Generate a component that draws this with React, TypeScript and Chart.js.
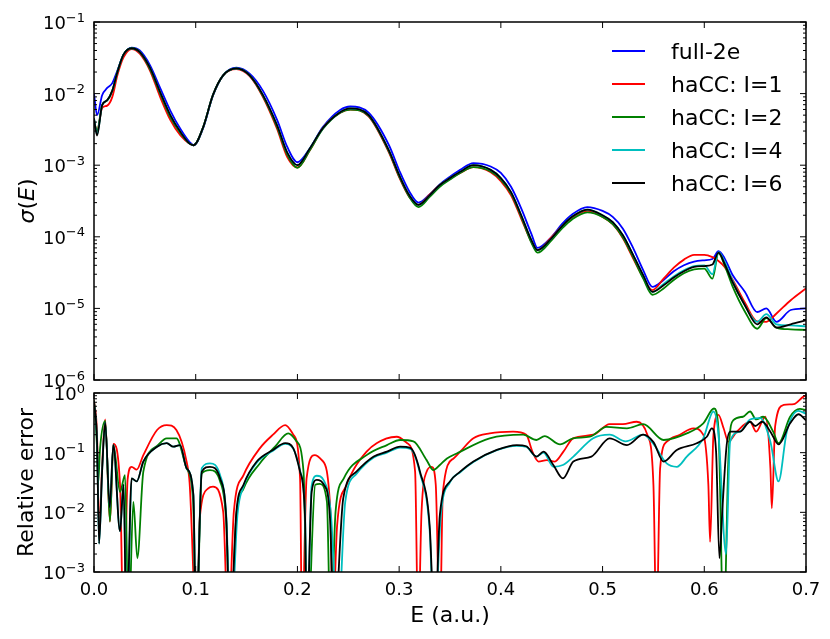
import { useEffect, useRef } from "react"
import { Chart, registerables } from "chart.js"

Chart.register(...registerables)

const FONT = "'DejaVu Sans', sans-serif"
const WIDTH = 830
const HEIGHT = 639

// energy axis ticks (a.u.)
const energyTicks = [0, 0.1, 0.2, 0.3, 0.4, 0.5, 0.6, 0.7]
// decades on the two log axes
const sigmaDecades = [-6, -5, -4, -3, -2, -1]
const errorDecades = [-3, -2, -1, 0]

const seriesNames = ["full-2e", "haCC: I=1", "haCC: I=2", "haCC: I=4", "haCC: I=6"]
const seriesColors = ["#0000ff", "#ff0000", "#008000", "#00bfbf", "#000000"]

// upper panel: sigma(E), all curves on one energy grid
const energyTop = [
  0, 0.003, 0.008, 0.013, 0.018, 0.023, 0.029, 0.037, 0.045, 0.055,
  0.065, 0.075, 0.085, 0.094, 0.098, 0.107, 0.117, 0.127, 0.14, 0.153,
  0.166, 0.18, 0.19, 0.2, 0.212, 0.225, 0.242, 0.252, 0.27, 0.29,
  0.3, 0.31, 0.319, 0.33, 0.34, 0.35, 0.36, 0.373, 0.39, 0.4,
  0.41, 0.42, 0.43, 0.436, 0.45, 0.46, 0.47, 0.485, 0.5, 0.51,
  0.52, 0.53, 0.54, 0.549, 0.56, 0.57, 0.58, 0.59, 0.6, 0.608,
  0.614, 0.62, 0.628, 0.64, 0.652, 0.661, 0.671, 0.685, 0.7,
]
const sigmaFull2e = [
  1.0e-2, 5.0e-3, 9.5e-3, 1.2e-2, 1.4e-2, 2.1e-2, 3.5e-2, 4.4e-2, 4.0e-2, 2.5e-2,
  1.2e-2, 5.8e-3, 3.2e-3, 2.1e-3, 1.9e-3, 3.2e-3, 9.4e-3, 1.8e-2, 2.3e-2, 1.9e-2,
  1.1e-2, 4.3e-3, 1.8e-3, 1.1e-3, 1.7e-3, 3.4e-3, 5.9e-3, 6.6e-3, 5.4e-3, 1.9e-3,
  8.5e-4, 4.3e-4, 3.0e-4, 3.9e-4, 5.4e-4, 6.9e-4, 8.6e-4, 1.07e-3, 9.6e-4, 7.8e-4,
  5.0e-4, 2.5e-4, 1.1e-4, 7.0e-5, 1.0e-4, 1.5e-4, 2.05e-4, 2.6e-4, 2.3e-4, 1.9e-4,
  1.3e-4, 7.0e-5, 3.4e-5, 2.0e-5, 2.5e-5, 3.3e-5, 4.0e-5, 4.5e-5, 4.7e-5, 4.9e-5,
  6.3e-5, 5.0e-5, 2.9e-5, 1.7e-5, 8.9e-6, 1.0e-5, 6.5e-6, 9.5e-6, 1.0e-5,
]
const sigmaL1 = [
  4.0e-3, 3.0e-3, 6.3e-3, 6.8e-3, 9.0e-3, 1.8e-2, 3.2e-2, 4.2e-2, 3.6e-2, 2.1e-2,
  9.0e-3, 4.3e-3, 2.6e-3, 2.0e-3, 1.9e-3, 3.3e-3, 9.6e-3, 1.8e-2, 2.2e-2, 1.75e-2,
  9.0e-3, 3.2e-3, 1.3e-3, 9.3e-4, 1.6e-3, 3.3e-3, 5.4e-3, 6.0e-3, 4.8e-3, 1.5e-3,
  6.8e-4, 3.6e-4, 2.8e-4, 3.9e-4, 5.3e-4, 6.5e-4, 7.8e-4, 9.4e-4, 8.0e-4, 6.0e-4,
  3.8e-4, 1.8e-4, 8.5e-5, 6.5e-5, 1.0e-4, 1.4e-4, 1.85e-4, 2.3e-4, 1.9e-4, 1.5e-4,
  9.5e-5, 5.0e-5, 2.7e-5, 1.8e-5, 2.6e-5, 3.7e-5, 4.8e-5, 5.6e-5, 5.6e-5, 5.2e-5,
  4.6e-5, 3.8e-5, 2.5e-5, 1.2e-5, 6.6e-6, 6.5e-6, 8.5e-6, 1.3e-5, 1.9e-5,
]
const sigmaL2 = [
  4.2e-3, 3.0e-3, 6.9e-3, 8.0e-3, 1.1e-2, 2.0e-2, 3.5e-2, 4.3e-2, 3.8e-2, 2.2e-2,
  1.0e-2, 4.7e-3, 2.8e-3, 2.0e-3, 1.9e-3, 3.3e-3, 9.6e-3, 1.8e-2, 2.25e-2, 1.8e-2,
  9.3e-3, 3.4e-3, 1.4e-3, 9.2e-4, 1.6e-3, 3.2e-3, 5.4e-3, 6.0e-3, 4.9e-3, 1.55e-3,
  7.0e-4, 3.6e-4, 2.6e-4, 3.6e-4, 5.0e-4, 6.3e-4, 7.8e-4, 9.4e-4, 8.2e-4, 6.3e-4,
  4.0e-4, 1.9e-4, 8.3e-5, 6.0e-5, 9.0e-5, 1.3e-4, 1.75e-4, 2.2e-4, 1.9e-4, 1.5e-4,
  9.8e-5, 5.2e-5, 2.6e-5, 1.55e-5, 1.9e-5, 2.5e-5, 3.1e-5, 3.5e-5, 3.6e-5, 2.6e-5,
  5.9e-5, 4.0e-5, 2.0e-5, 9.0e-6, 5.2e-6, 7.3e-6, 5.4e-6, 5.1e-6, 5.0e-6,
]
const sigmaL4 = [
  4.5e-3, 2.7e-3, 6.9e-3, 8.1e-3, 1.1e-2, 2.0e-2, 3.5e-2, 4.3e-2, 3.8e-2, 2.3e-2,
  1.05e-2, 5.0e-3, 2.9e-3, 2.0e-3, 1.9e-3, 3.3e-3, 9.6e-3, 1.8e-2, 2.25e-2, 1.8e-2,
  9.6e-3, 3.6e-3, 1.5e-3, 1.0e-3, 1.7e-3, 3.3e-3, 5.5e-3, 6.2e-3, 5.0e-3, 1.6e-3,
  7.3e-4, 3.8e-4, 2.8e-4, 3.8e-4, 5.3e-4, 6.6e-4, 8.1e-4, 1.0e-3, 8.6e-4, 6.6e-4,
  4.2e-4, 2.0e-4, 9.0e-5, 6.5e-5, 9.6e-5, 1.4e-4, 1.9e-4, 2.4e-4, 2.0e-4, 1.6e-4,
  1.05e-4, 5.6e-5, 2.9e-5, 1.7e-5, 2.2e-5, 2.8e-5, 3.4e-5, 3.9e-5, 4.0e-5, 3.0e-5,
  6.1e-5, 4.5e-5, 2.4e-5, 1.1e-5, 6.5e-6, 8.3e-6, 6.0e-6, 5.8e-6, 5.6e-6,
]
const sigmaL6 = [
  4.5e-3, 2.6e-3, 6.9e-3, 8.1e-3, 1.1e-2, 2.0e-2, 3.5e-2, 4.3e-2, 3.8e-2, 2.3e-2,
  1.05e-2, 5.0e-3, 2.9e-3, 2.0e-3, 1.9e-3, 3.3e-3, 9.6e-3, 1.8e-2, 2.25e-2, 1.8e-2,
  9.6e-3, 3.6e-3, 1.5e-3, 1.0e-3, 1.7e-3, 3.3e-3, 5.5e-3, 6.2e-3, 5.0e-3, 1.6e-3,
  7.3e-4, 3.8e-4, 2.8e-4, 3.8e-4, 5.3e-4, 6.6e-4, 8.1e-4, 1.0e-3, 8.6e-4, 6.6e-4,
  4.2e-4, 2.0e-4, 9.0e-5, 6.5e-5, 9.6e-5, 1.4e-4, 1.9e-4, 2.4e-4, 2.0e-4, 1.6e-4,
  1.05e-4, 5.6e-5, 2.9e-5, 1.7e-5, 2.1e-5, 2.7e-5, 3.3e-5, 3.8e-5, 3.9e-5, 4.1e-5,
  6.0e-5, 4.2e-5, 2.3e-5, 1.1e-5, 6.0e-6, 7.5e-6, 5.4e-6, 6.0e-6, 6.8e-6,
]

// lower panel: relative error, each curve sampled where its features are
const errL1Energy = [
  0, 0.003, 0.005, 0.008, 0.011, 0.0157, 0.019, 0.0256, 0.029, 0.033,
  0.037, 0.042, 0.0485, 0.062, 0.0715, 0.081, 0.091, 0.094, 0.101, 0.104,
  0.112, 0.117, 0.127, 0.132, 0.1375, 0.147, 0.163, 0.176, 0.188, 0.196,
  0.2026, 0.2045, 0.209, 0.217, 0.224, 0.2328, 0.2345, 0.239, 0.2485, 0.268,
  0.288, 0.2977, 0.308, 0.3157, 0.3187, 0.322, 0.327, 0.332, 0.336, 0.34,
  0.343, 0.3535, 0.36, 0.373, 0.389, 0.412, 0.425, 0.431, 0.437, 0.445,
  0.453, 0.4615, 0.471, 0.491, 0.507, 0.52, 0.5336, 0.544, 0.55, 0.553,
  0.5566, 0.5631, 0.576, 0.5893, 0.599, 0.604, 0.6057, 0.609, 0.6139, 0.619,
  0.6237, 0.632, 0.645, 0.651, 0.66, 0.665, 0.6664, 0.6697, 0.678, 0.688,
  0.6975, 0.7,
]
const errL1 = [
  0.75, 0.2, 5e-3, 0.06, 0.36, 7e-3, 0.14, 0.029, 1e-4, 0.035,
  0.058, 0.052, 0.091, 0.24, 0.29, 0.24, 0.071, 0.031, 1e-4, 0.008,
  0.025, 0.027, 0.0103, 1e-4, 0.0103, 0.042, 0.118, 0.2, 0.29, 0.2,
  0.037, 1e-4, 0.037, 0.091, 0.075, 8e-3, 1e-4, 6e-3, 0.029, 0.104,
  0.174, 0.185, 0.144, 0.048, 1e-4, 0.01, 0.048, 0.058, 0.029, 1e-4,
  0.022, 0.08, 0.104, 0.174, 0.21, 0.225, 0.2, 0.104, 0.071, 0.075,
  0.071, 0.104, 0.174, 0.2, 0.3, 0.3, 0.33, 0.2, 0.029, 1e-4,
  0.055, 0.153, 0.2, 0.256, 0.2, 0.029, 3.2e-3, 0.2, 0.43, 0.256,
  0.153, 0.225, 0.33, 0.225, 0.4, 0.055, 0.0117, 0.28, 0.63, 0.65,
  0.87, 0.9,
]
const errL2Energy = [
  0, 0.003, 0.004, 0.006, 0.011, 0.0157, 0.019, 0.0256, 0.0305, 0.034,
  0.0387, 0.0426, 0.0485, 0.062, 0.0715, 0.081, 0.091, 0.0975, 0.1005, 0.106,
  0.114, 0.124, 0.13, 0.134, 0.14, 0.147, 0.163, 0.178, 0.191, 0.1985,
  0.206, 0.21, 0.2175, 0.222, 0.229, 0.2325, 0.2375, 0.2456, 0.268, 0.288,
  0.301, 0.314, 0.327, 0.3337, 0.34, 0.347, 0.3566, 0.389, 0.422, 0.435,
  0.443, 0.4582, 0.471, 0.4875, 0.504, 0.524, 0.54, 0.56, 0.5828, 0.599,
  0.6096, 0.6139, 0.619, 0.624, 0.6286, 0.638, 0.645, 0.651, 0.658, 0.6677,
  0.673, 0.6844, 0.694, 0.7,
]
const errL2 = [
  0.75, 0.12, 0.03, 0.12, 0.34, 7e-3, 0.135, 0.022, 0.042, 1e-4,
  0.015, 1.7e-3, 0.048, 0.13, 0.174, 0.174, 0.055, 0.015, 1e-4, 0.045,
  0.051, 0.033, 7e-3, 1e-4, 9e-3, 0.025, 0.066, 0.126, 0.21, 0.16,
  0.048, 1e-4, 0.029, 0.03, 0.015, 1e-4, 0.0103, 0.037, 0.091, 0.134,
  0.163, 0.155, 0.075, 0.051, 0.062, 0.08, 0.097, 0.174, 0.2, 0.163,
  0.19, 0.138, 0.174, 0.185, 0.27, 0.256, 0.3, 0.163, 0.21, 0.31,
  0.55, 0.256, 1e-4, 0.104, 0.35, 0.4, 0.49, 0.36, 0.4, 0.225,
  0.144, 0.4, 0.54, 0.52,
]
const errL4Energy = [
  0, 0.003, 0.005, 0.008, 0.011, 0.0155, 0.019, 0.0256, 0.029, 0.0325,
  0.037, 0.042, 0.0485, 0.062, 0.0715, 0.078, 0.0846, 0.091, 0.0977, 0.1003,
  0.106, 0.114, 0.124, 0.13, 0.1345, 0.141, 0.147, 0.16, 0.176, 0.188,
  0.196, 0.2026, 0.2075, 0.2095, 0.214, 0.219, 0.226, 0.233, 0.2395, 0.247,
  0.258, 0.275, 0.288, 0.301, 0.311, 0.3205, 0.33, 0.3345, 0.341, 0.35,
  0.36, 0.373, 0.396, 0.4156, 0.425, 0.435, 0.442, 0.4516, 0.461, 0.4713,
  0.4908, 0.507, 0.5226, 0.54, 0.55, 0.563, 0.573, 0.5828, 0.599, 0.609,
  0.614, 0.6214, 0.6254, 0.635, 0.645, 0.655, 0.665, 0.673, 0.6811, 0.6926,
  0.7,
]
const errL4 = [
  0.72, 0.15, 3e-3, 0.05, 0.32, 0.012, 0.135, 4.8e-3, 0.029, 1e-4,
  0.037, 0.033, 0.071, 0.126, 0.144, 0.126, 0.134, 0.055, 0.0196, 1e-4,
  0.055, 0.066, 0.042, 9e-3, 1e-4, 9e-3, 0.027, 0.068, 0.108, 0.14,
  0.116, 0.05, 9e-3, 1e-4, 0.028, 0.041, 0.034, 9e-3, 1e-4, 0.015,
  0.044, 0.083, 0.1, 0.122, 0.116, 0.045, 5e-3, 1e-4, 0.009, 0.032,
  0.047, 0.07, 0.11, 0.13, 0.125, 0.086, 0.1, 0.058, 0.062, 0.086,
  0.174, 0.2, 0.155, 0.2, 0.14, 0.066, 0.058, 0.086, 0.174, 0.49,
  0.2, 2e-3, 0.153, 0.225, 0.36, 0.38, 0.153, 0.033, 0.225, 0.5,
  0.45,
]
const errL6Energy = [
  0, 0.003, 0.005, 0.008, 0.011, 0.0155, 0.019, 0.0256, 0.029, 0.032,
  0.037, 0.042, 0.0485, 0.062, 0.0715, 0.078, 0.0846, 0.091, 0.0977, 0.1003,
  0.106, 0.114, 0.124, 0.13, 0.1337, 0.14, 0.147, 0.16, 0.176, 0.188,
  0.196, 0.2026, 0.2075, 0.209, 0.214, 0.219, 0.226, 0.232, 0.236, 0.245,
  0.258, 0.275, 0.288, 0.301, 0.311, 0.3205, 0.33, 0.335, 0.34, 0.35,
  0.36, 0.373, 0.396, 0.4156, 0.425, 0.435, 0.442, 0.4516, 0.461, 0.4713,
  0.489, 0.507, 0.524, 0.54, 0.55, 0.56, 0.573, 0.5926, 0.6025, 0.6074,
  0.6116, 0.6149, 0.618, 0.622, 0.6254, 0.635, 0.645, 0.65, 0.657, 0.665,
  0.673, 0.6844, 0.6926, 0.7,
]
const errL6 = [
  0.72, 0.15, 3e-3, 0.05, 0.32, 0.012, 0.135, 4.8e-3, 0.029, 1e-4,
  0.037, 0.033, 0.071, 0.126, 0.144, 0.126, 0.134, 0.055, 0.0196, 1e-4,
  0.048, 0.058, 0.037, 8e-3, 1e-4, 0.0103, 0.029, 0.071, 0.111, 0.144,
  0.118, 0.048, 8e-3, 1e-4, 0.022, 0.035, 0.029, 8e-3, 1e-4, 0.017,
  0.048, 0.086, 0.104, 0.126, 0.12, 0.048, 6e-3, 1e-4, 0.009, 0.033,
  0.048, 0.071, 0.111, 0.134, 0.128, 0.086, 0.104, 0.062, 0.037, 0.071,
  0.086, 0.174, 0.134, 0.2, 0.15, 0.071, 0.111, 0.144, 0.185, 0.256,
  0.104, 1.7e-3, 0.013, 0.134, 0.225, 0.225, 0.33, 0.28, 0.33, 0.225,
  0.138, 0.31, 0.44, 0.35,
]

const toPoints = (xs: number[], ys: number[]) => xs.map((x, i) => ({ x, y: ys[i] }))

// black drawn last (lowest order on top)
const drawOrder = [4, 3, 2, 1, 0]

function makeDatasets(points: { x: number; y: number }[][]) {
  return points.map((data, i) => ({
    label: seriesNames[i],
    data,
    borderColor: seriesColors[i],
    backgroundColor: seriesColors[i],
    borderWidth: 1.8,
    pointRadius: 0,
    fill: false,
    cubicInterpolationMode: "monotone" as const,
    order: drawOrder[i],
  }))
}

function line(ctx: CanvasRenderingContext2D, x1: number, y1: number, x2: number, y2: number) {
  ctx.moveTo(x1, y1)
  ctx.lineTo(x2, y2)
}

// matplotlib-like frame: box, inward ticks, 10^n labels, titles, legend
const axesDecor = {
  id: "axesDecor",
  afterDatasetsDraw(chart: any, _args: any, opts: any) {
    const { ctx, chartArea: a } = chart
    const xs = chart.scales.x
    const ys = chart.scales.y
    const decades: number[] = opts.decades

    ctx.save()
    ctx.strokeStyle = "#000"
    ctx.fillStyle = "#000"
    ctx.lineWidth = 1
    ctx.beginPath()
    for (const v of energyTicks) {
      const px = xs.getPixelForValue(v)
      line(ctx, px, a.bottom, px, a.bottom - 6)
      line(ctx, px, a.top, px, a.top + 6)
    }
    decades.forEach((d, i) => {
      const py = ys.getPixelForValue(10 ** d)
      line(ctx, a.left, py, a.left + 6, py)
      line(ctx, a.right, py, a.right - 6, py)
      if (i === decades.length - 1) return
      for (let m = 2; m < 10; m++) {
        const pm = ys.getPixelForValue(m * 10 ** d)
        line(ctx, a.left, pm, a.left + 3, pm)
        line(ctx, a.right, pm, a.right - 3, pm)
      }
    })
    ctx.stroke()
    ctx.lineWidth = 1.5
    ctx.strokeRect(a.left, a.top, a.right - a.left, a.bottom - a.top)

    ctx.textBaseline = "alphabetic"
    ctx.textAlign = "left"
    for (const d of decades) {
      const py = ys.getPixelForValue(10 ** d)
      const sup = d < 0 ? "\u2212" + -d : String(d)
      ctx.font = `13px ${FONT}`
      const supW = ctx.measureText(sup).width
      ctx.font = `18px ${FONT}`
      const baseW = ctx.measureText("10").width
      const right = a.left - 9
      ctx.fillText("10", right - supW - baseW, py + 7)
      ctx.font = `13px ${FONT}`
      ctx.fillText(sup, right - supW, py - 0.5)
    }

    if (opts.energyLabels) {
      ctx.textAlign = "center"
      ctx.font = `18px ${FONT}`
      for (const v of energyTicks) {
        ctx.fillText(v.toFixed(1), xs.getPixelForValue(v), a.bottom + 22.5)
      }
      ctx.font = `22px ${FONT}`
      ctx.fillText("E (a.u.)", (a.left + a.right) / 2, a.bottom + 49.5)
    }

    // rotated y title
    const cy = (a.top + a.bottom) / 2
    ctx.save()
    ctx.translate(opts.titleX, cy)
    ctx.rotate(-Math.PI / 2)
    ctx.textAlign = "left"
    const parts: [string, string][] = opts.titleParts
    let total = 0
    for (const [text, style] of parts) {
      ctx.font = `${style} 22px ${FONT}`
      total += ctx.measureText(text).width
    }
    let tx = -total / 2
    for (const [text, style] of parts) {
      ctx.font = `${style} 22px ${FONT}`
      ctx.fillText(text, tx, 0)
      tx += ctx.measureText(text).width
    }
    ctx.restore()

    if (opts.legend) {
      ctx.font = `22px ${FONT}`
      ctx.textAlign = "left"
      chart.data.datasets.forEach((ds: any, i: number) => {
        const y = a.top + 29 + 33 * i
        ctx.strokeStyle = ds.borderColor
        ctx.lineWidth = 1.8
        ctx.beginPath()
        line(ctx, a.right - 194, y, a.right - 161, y)
        ctx.stroke()
        ctx.fillText(ds.label, a.right - 135, y + 8)
      })
    }
    ctx.restore()
  },
}

function makeConfig(
  datasets: any[],
  yMin: number,
  yMax: number,
  padding: { top: number; bottom: number },
  decor: any
): any {
  return {
    type: "line",
    data: { datasets },
    options: {
      responsive: false,
      animation: false,
      events: [],
      layout: { padding: { left: 94, right: 24, top: padding.top, bottom: padding.bottom } },
      plugins: {
        legend: { display: false },
        tooltip: { enabled: false },
        axesDecor: decor,
      },
      scales: {
        x: {
          type: "linear",
          min: 0,
          max: 0.7,
          display: false,
          ticks: { display: false },
          grid: { display: false, drawTicks: false },
        },
        y: {
          type: "logarithmic",
          min: yMin,
          max: yMax,
          display: false,
          ticks: { display: false },
          grid: { display: false, drawTicks: false },
        },
      },
    },
    plugins: [axesDecor],
  }
}

function Panel({ config }: { config: any }) {
  const chartRef = useRef<HTMLCanvasElement>(null)
  const chartInstance = useRef<Chart | null>(null)

  useEffect(() => {
    if (!chartRef.current) return
    if (chartInstance.current) {
      chartInstance.current.destroy()
    }
    const ctx = chartRef.current.getContext("2d")
    if (!ctx) return
    chartInstance.current = new Chart(ctx, config)
    return () => {
      if (chartInstance.current) {
        chartInstance.current.destroy()
        chartInstance.current = null
      }
    }
  }, [config])

  return (
    <canvas
      ref={chartRef}
      width={WIDTH}
      height={HEIGHT}
      style={{ position: "absolute", left: 0, top: 0, width: WIDTH, height: HEIGHT }}
    />
  )
}

const topConfig = makeConfig(
  makeDatasets([
    toPoints(energyTop, sigmaFull2e),
    toPoints(energyTop, sigmaL1),
    toPoints(energyTop, sigmaL2),
    toPoints(energyTop, sigmaL4),
    toPoints(energyTop, sigmaL6),
  ]),
  1e-6,
  1e-1,
  { top: 22, bottom: HEIGHT - 380 },
  {
    decades: sigmaDecades,
    energyLabels: false,
    legend: true,
    titleX: 34,
    titleParts: [
      ["\u03c3", "italic"],
      ["(", "normal"],
      ["E", "italic"],
      [")", "normal"],
    ],
  }
)

const bottomConfig = makeConfig(
  makeDatasets([
    [],
    toPoints(errL1Energy, errL1),
    toPoints(errL2Energy, errL2),
    toPoints(errL4Energy, errL4),
    toPoints(errL6Energy, errL6),
  ]),
  1e-3,
  1,
  { top: 393, bottom: HEIGHT - 572 },
  {
    decades: errorDecades,
    energyLabels: true,
    legend: false,
    titleX: 32.5,
    titleParts: [["Relative error", "normal"]],
  }
)

export default function App() {
  return (
    <div
      style={{
        position: "fixed",
        left: 0,
        top: 0,
        width: WIDTH,
        height: HEIGHT,
        background: "#ffffff",
      }}
    >
      <Panel config={topConfig} />
      <Panel config={bottomConfig} />
    </div>
  )
}
